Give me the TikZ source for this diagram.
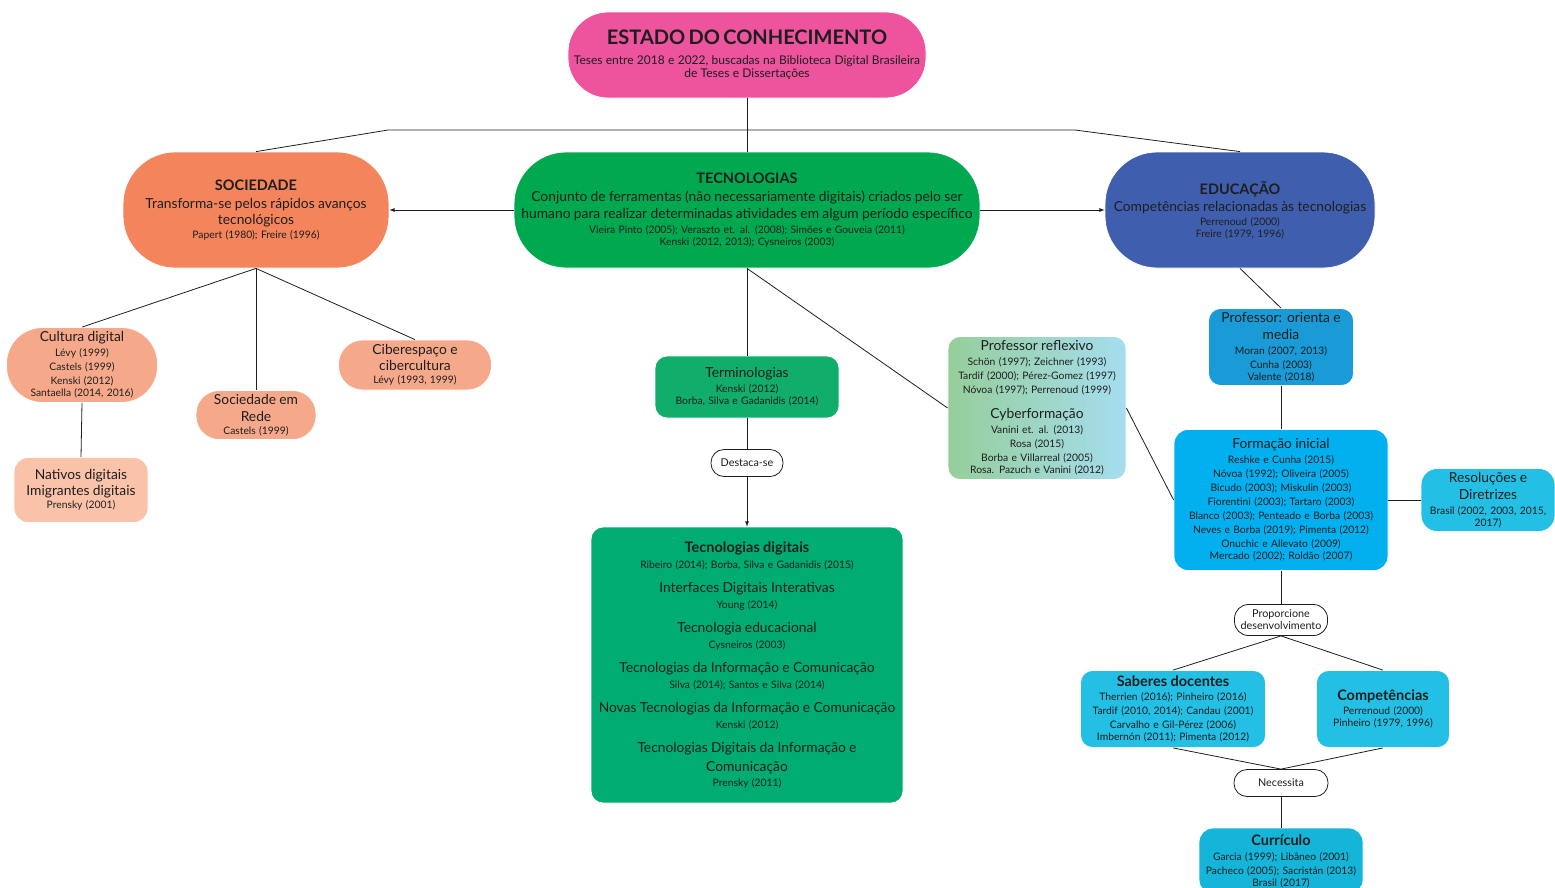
\documentclass[tikz,border=0pt]{standalone}
\usepackage{fontspec}
\setmainfont{Lato}

\definecolor{ink}{HTML}{1E1E1E}
\definecolor{rosa}{HTML}{EE539E}
\definecolor{laranja}{HTML}{F4845B}
\definecolor{salmao}{HTML}{F6A98A}
\definecolor{pessego}{HTML}{FAC3A9}
\definecolor{verde}{HTML}{00A94F}
\definecolor{verdeagua}{HTML}{10AD6B}
\definecolor{verdedig}{HTML}{00AC72}
\definecolor{verdeclaro}{HTML}{96CE9B}
\definecolor{azulclaro}{HTML}{A5DDEF}
\definecolor{anil}{HTML}{3F5FAE}
\definecolor{azulmedio}{HTML}{1A9AD7}
\definecolor{ciano}{HTML}{03B0EF}
\definecolor{celeste}{HTML}{23BFE5}
\definecolor{turquesa}{HTML}{14B5D9}

\newcommand{\fhead}{\fontsize{14.5}{18}\selectfont\bfseries}
\newcommand{\fbody}{\fontsize{13.8}{16.5}\selectfont\mdseries}
\newcommand{\fcite}{\fontsize{10.3}{14}\selectfont\mdseries}
\newcommand{\ftag}{\fontsize{10.8}{14}\selectfont\mdseries}

\begin{document}
\begin{tikzpicture}[x=1pt,y=-1pt,
    box/.style={align=center, inner ysep=0pt, inner xsep=-20pt, text=ink, draw=white, line width=0.8pt},
    link/.style={draw=ink, line width=0.8pt},
    tagbox/.style={box, draw=ink, fill=white}]
  \useasboundingbox (0,0) rectangle (1555,887);

  % Topo
  \node[box, fill=rosa, text width=398pt, minimum height=86pt, rounded corners=40pt] (estado) at (747,55)
    {\fontsize{20}{22}\selectfont\bfseries ESTADO DO CONHECIMENTO\\[5pt]
     \fontsize{12}{15}\selectfont\mdseries Teses entre 2018 e 2022, buscadas na Biblioteca Digital Brasileira\\[1.5pt]
     de Teses e Dissertações};

  % Tres eixos
  \node[box, fill=laranja, text width=306pt, minimum height=116pt, rounded corners=52pt] (soc) at (256,210)
    {\fhead SOCIEDADE\\[1.5pt] \fbody Transforma-se pelos rápidos avanços\\ tecnológicos\\[2pt]
     \fcite Papert (1980); Freire (1996)};
  \node[box, fill=verde, text width=506pt, minimum height=116pt, rounded corners=52pt] (tec) at (747,210)
    {\fhead TECNOLOGIAS\\[1.5pt] \fbody Conjunto de ferramentas (não necessariamente digitais) criados pelo ser\\
     humano para realizar determinadas atividades em algum período específico\\[1pt]
     \fcite Vieira Pinto (2005); Veraszto et. al. (2008); Simões e Gouveia (2011)\\
     Kenski (2012, 2013); Cysneiros (2003)};
  \node[box, fill=anil, text width=310pt, minimum height=116pt, rounded corners=52pt] (edu) at (1240,210)
    {\fhead EDUCAÇÃO\\[1pt] \fbody Competências relacionadas às tecnologias\\[0pt]
     \fcite Perrenoud (2000)\\ Freire (1979, 1996)};

  % Ramo sociedade
  \node[box, fill=salmao, text width=191pt, minimum height=75pt, rounded corners=36pt] (cultura) at (82,365)
    {\fbody Cultura digital\\[1pt] \fcite Lévy (1999)\\ Castels (1999)\\ Kenski (2012)\\ Santaella (2014, 2016)};
  \node[box, fill=salmao, text width=160pt, minimum height=49pt, rounded corners=23pt] (rede) at (256,415)
    {\fbody Sociedade em\\ Rede\\[1pt] \fcite Castels (1999)};
  \node[box, fill=salmao, text width=193pt, minimum height=50pt, rounded corners=24pt] (ciber) at (415,365)
    {\fbody Ciberespaço e\\ cibercultura\\[1pt] \fcite Lévy (1993, 1999)};
  \node[box, fill=pessego, text width=174pt, minimum height=65pt, rounded corners=14pt] (nativos) at (81,490)
    {\fbody Nativos digitais\\ Imigrantes digitais\\[1pt] \fcite Prensky (2001)};

  % Ramo tecnologias
  \node[box, fill=verdeagua, text width=224pt, minimum height=62pt, rounded corners=12pt] (termo) at (747,387)
    {\fbody Terminologias\\[1pt] \fcite Kenski (2012)\\ Borba, Silva e Gadanidis (2014)};
  \node[tagbox, text width=112pt, minimum height=27pt, rounded corners=13pt] (destaca) at (747,463)
    {\ftag Destaca-se};
  \node[box, fill=verdedig, text width=352pt, minimum height=276pt, rounded corners=12pt] (tecdig) at (747,665)
    {\fhead Tecnologias digitais\\[2pt]
     \fcite Ribeiro (2014); Borba, Silva e Gadanidis (2015)\\[7.5pt]
     \fbody Interfaces Digitais Interativas\\[2pt] \fcite Young (2014)\\[7.5pt]
     \fbody Tecnologia educacional\\[2pt] \fcite Cysneiros (2003)\\[7.5pt]
     \fbody Tecnologias da Informação e Comunicação\\[2pt] \fcite Silva (2014); Santos e Silva (2014)\\[7.5pt]
     \fbody Novas Tecnologias da Informação e Comunicação\\[2pt] \fcite Kenski (2012)\\[7.5pt]
     \fbody Tecnologias Digitais da Informação e\\[2.5pt] Comunicação\\[3pt] \fcite Prensky (2011)};
  \node[box, left color=verdeclaro, right color=azulclaro, text width=218pt, minimum height=143pt, rounded corners=12pt] (reflexivo) at (1037,408)
    {\fbody Professor reflexivo\\[1pt] \fcite Schön (1997); Zeichner (1993)\\ Tardif (2000); Pérez-Gomez (1997)\\ Nóvoa (1997); Perrenoud (1999)\\[8.5pt]
     \fbody Cyberformação\\[1pt] \fcite Vanini et. al. (2013)\\ Rosa (2015)\\ Borba e Villarreal (2005)\\ Rosa. Pazuch e Vanini (2012)};

  % Ramo educacao
  \node[box, fill=azulmedio, text width=185pt, minimum height=77pt, rounded corners=12pt] (orienta) at (1281,347)
    {\fbody Professor: orienta e\\ media\\[1pt] \fcite Moran (2007, 2013)\\ Cunha (2003)\\ Valente (2018)};
  \node[box, fill=ciano, text width=254pt, minimum height=141pt, rounded corners=14pt] (formacao) at (1281,500)
    {\fbody Formação inicial\\[1pt] \fcite Reshke e Cunha (2015)\\ Nóvoa (1992); Oliveira (2005)\\
     Bicudo (2003); Miskulin (2003)\\ Fiorentini (2003); Tartaro (2003)\\ Blanco (2003); Penteado e Borba (2003)\\
     Neves e Borba (2019); Pimenta (2012)\\ Onuchic e Allevato (2009)\\ Mercado (2002); Roldão (2007)};
  \node[box, fill=celeste, text width=174pt, minimum height=63pt, rounded corners=16pt] (resolucoes) at (1488,500)
    {\fbody Resoluções e\\ Diretrizes\\[1pt] \fcite Brasil (2002, 2003, 2015,\\ 2017)};
  \node[tagbox, text width=133pt, minimum height=31pt, rounded corners=14pt] (proporcione) at (1281,620)
    {\ftag Proporcione\\ desenvolvimento};
  \node[box, fill=celeste, text width=225pt, minimum height=77pt, rounded corners=12pt] (saberes) at (1173,709)
    {\fhead Saberes docentes\\[0pt] \fcite Therrien (2016); Pinheiro (2016)\\
     Tardif (2010, 2014); Candau (2001)\\ Carvalho e Gil-Pérez (2006)\\ Imbernón (2011); Pimenta (2012)};
  \node[box, fill=celeste, text width=173pt, minimum height=77pt, rounded corners=12pt] (competencias) at (1383,709)
    {\fhead Competências\\[0pt] \fcite Perrenoud (2000)\\ Pinheiro (1979, 1996)};
  \node[tagbox, text width=134pt, minimum height=27pt, rounded corners=13pt] (necessita) at (1281,783)
    {\ftag Necessita};
  \node[box, fill=turquesa, text width=204pt, minimum height=66pt, rounded corners=14pt] (curriculo) at (1281,861)
    {\fhead Currículo\\[1pt] \fcite Garcia (1999); Libâneo (2001)\\
     Pacheco (2005); Sacristán (2013)\\ Brasil (2017)};

  % Ligacoes
  \coordinate (barraE) at (388,130);
  \coordinate (barraD) at (1075,130);
  \draw[link] (estado.south) -- (tec.north);
  \draw[link] (soc.north) -- (barraE) -- (barraD) -- (edu.north);
  \draw[link, -latex] (tec.west) -- (soc.east);
  \draw[link, -latex] (tec.east) -- (edu.west);
  \draw[link] (soc.south) -- (cultura.north);
  \draw[link] (soc.south) -- (rede.north);
  \draw[link] (soc.south) -- (ciber.north);
  \draw[link] (cultura.south) -- (nativos.north);
  \draw[link] (tec.south) -- (termo.north);
  \draw[link] (tec.south) -- (reflexivo.west);
  \draw[link] (termo.south) -- (destaca.north);
  \draw[link, -latex] (destaca.south) -- (tecdig.north);
  \draw[link] (reflexivo.east) -- (formacao.west);
  \draw[link] (edu.south) -- (orienta.north);
  \draw[link] (orienta.south) -- (formacao.north);
  \draw[link] (formacao.east) -- (resolucoes.west);
  \draw[link] (formacao.south) -- (proporcione.north);
  \draw[link] (proporcione.south) -- (saberes.north);
  \draw[link] (proporcione.south) -- (competencias.north);
  \draw[link] (saberes.south) -- (necessita.north);
  \draw[link] (competencias.south) -- (necessita.north);
  \draw[link] (necessita.south) -- (curriculo.north);
\end{tikzpicture}
\end{document}
